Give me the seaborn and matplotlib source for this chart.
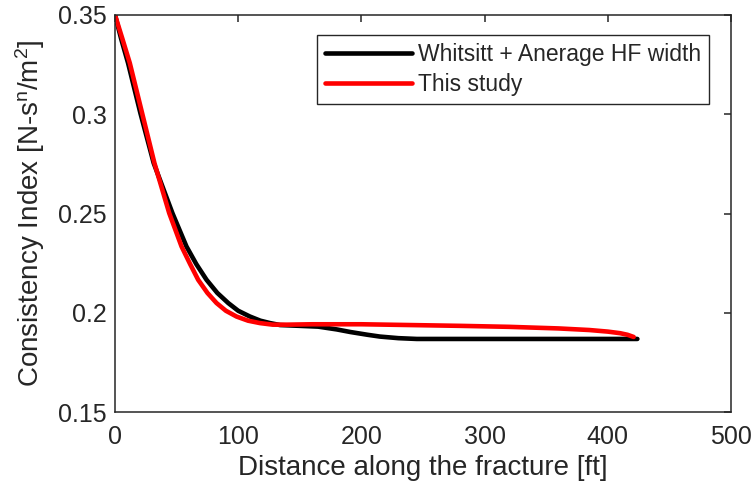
import numpy as np
import pandas as pd
import matplotlib
matplotlib.use("Agg")
import matplotlib.pyplot as plt
import seaborn as sns

# ---- data ----
whitsitt_x = [0, 5, 10.6, 20.6, 31.4, 46.6, 58, 66, 74.3, 83, 91.9, 100, 109.5, 118,
              125.8, 134, 150, 165, 180, 191, 205, 215, 230, 245, 300, 360, 424]
whitsitt_y = [0.35, 0.338, 0.3258, 0.3006, 0.2754, 0.2502, 0.2334, 0.2245, 0.2166, 0.2100,
              0.2049, 0.2010, 0.1981, 0.1960, 0.1948, 0.1938, 0.1934, 0.1930, 0.1916,
              0.1903, 0.1889, 0.1880, 0.1872, 0.1868, 0.1868, 0.1868, 0.1868]

study_x = [0, 6, 12, 22, 32, 44, 54, 61, 67.5, 75, 82.4, 90, 98.6, 108, 117.6, 128, 140,
           160, 200, 240, 280, 320, 360, 385, 400, 410, 416, 421]
study_y = [0.35, 0.338, 0.3258, 0.3006, 0.2754, 0.2502, 0.2334, 0.2245, 0.2166, 0.2100,
           0.2049, 0.2010, 0.1981, 0.1960, 0.1948, 0.1940, 0.1940, 0.1942, 0.1942, 0.1938,
           0.1934, 0.1929, 0.1921, 0.1913, 0.1905, 0.1897, 0.1889, 0.1878]

series_names = ["Whitsitt + Anerage HF width", "This study"]
x_ticks = [0, 100, 200, 300, 400, 500]
x_tick_labels = ["0", "100", "200", "300", "400", "500"]
y_ticks = [0.15, 0.2, 0.25, 0.3, 0.35]
y_tick_labels = ["0.15", "0.2", "0.25", "0.3", "0.35"]

df = pd.concat([
    pd.DataFrame({"x": whitsitt_x, "y": whitsitt_y, "series": series_names[0]}),
    pd.DataFrame({"x": study_x, "y": study_y, "series": series_names[1]}),
], ignore_index=True)

sns.set_style("white")
plt.rcParams["font.family"] = ["Liberation Sans", "DejaVu Sans"]
plt.rcParams["mathtext.default"] = "regular"

fig = plt.figure(figsize=(7.53, 4.93), dpi=100)
ax = fig.add_axes([115 / 753, 1 - 412 / 493, (731 - 115) / 753, (412 - 15) / 493])

sns.lineplot(data=df, x="x", y="y", hue="series", sort=False, estimator=None,
             palette={series_names[0]: "#000000", series_names[1]: "#ff0000"},
             linewidth=3.3, ax=ax, legend=True)

ax.set_xlim(0, 500)
ax.set_ylim(0.15, 0.35)
ax.set_xticks(x_ticks)
ax.set_xticklabels(x_tick_labels)
ax.set_yticks(y_ticks)
ax.set_yticklabels(y_tick_labels)

axcol = "#262626"
for s in ax.spines.values():
    s.set_visible(True)
    s.set_color(axcol)
    s.set_linewidth(1.1)
ax.tick_params(direction="in", length=5, width=1.1, color=axcol,
               labelsize=18, labelcolor=axcol, top=True, right=True)
ax.tick_params(axis="x", pad=9)
ax.tick_params(axis="y", pad=6)

ax.set_xlabel("Distance along the fracture [ft]", fontsize=20, color=axcol, labelpad=5)
ax.set_ylabel(r"Consistency Index [N-s$^{n}$/m$^{2}$]", fontsize=20, color=axcol, labelpad=8)

leg = ax.legend(loc="upper right", bbox_to_anchor=(0.964, 0.950), borderaxespad=0,
                fontsize=16.5, frameon=True, fancybox=False, framealpha=1,
                edgecolor=axcol, handlelength=3.8, handletextpad=0.26,
                borderpad=0.35, labelspacing=0.3)
leg.get_frame().set_linewidth(1.0)

fig.savefig("out.png", dpi=100)
